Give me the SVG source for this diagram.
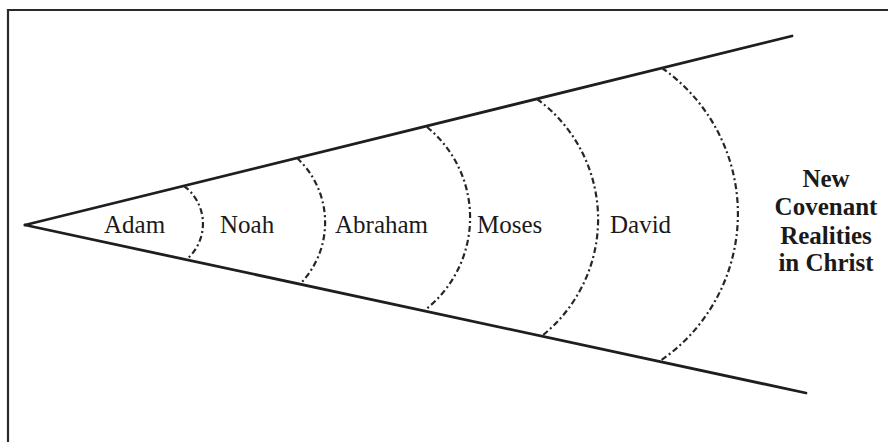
<svg xmlns="http://www.w3.org/2000/svg" width="888" height="442" viewBox="0 0 888 442">
<style>
.frame{stroke:#2a2a2a;stroke-width:2.2;fill:none}
.ray{stroke:#1e1e1e;stroke-width:2.8;fill:none;stroke-linecap:round}
.arc{stroke:#262626;stroke-width:2.2;fill:none;stroke-dasharray:6 3 2 3}
.lbl{font-family:"Liberation Serif","Times New Roman",serif;font-size:25px;fill:#1a1a1a}
.nc{font-family:"Liberation Serif","Times New Roman",serif;font-size:25px;font-weight:bold;fill:#1a1a1a;text-anchor:middle}
</style>
<rect width="888" height="442" fill="#ffffff"/>
<path class="frame" d="M8,442 V10 H888"/>
<g id="connectors">
<line class="ray" x1="25" y1="225" x2="792" y2="36"/>
<line class="ray" x1="25" y1="225" x2="806" y2="393"/>
<path class="arc" d="M184,186 A47,47 0 0 1 187,259"/>
<path class="arc" d="M297,158 A88,88 0 0 1 301,283"/>
<path class="arc" d="M427,127 A117,117 0 0 1 425,310"/>
<path class="arc" d="M537,99 A149,149 0 0 1 543,335"/>
<path class="arc" d="M662,68 A178,178 0 0 1 660,361"/>
</g>
<g id="adam"><text class="lbl" x="104" y="233">Adam</text></g>
<g id="noah"><text class="lbl" x="220" y="233">Noah</text></g>
<g id="abraham"><text class="lbl" x="335" y="233">Abraham</text></g>
<g id="moses"><text class="lbl" x="477" y="233">Moses</text></g>
<g id="david"><text class="lbl" x="610" y="233">David</text></g>
<g id="new-covenant">
<text class="nc" x="826" y="187">New</text>
<text class="nc" x="826" y="215">Covenant</text>
<text class="nc" x="826" y="244">Realities</text>
<text class="nc" x="826" y="271">in Christ</text>
</g>
</svg>
